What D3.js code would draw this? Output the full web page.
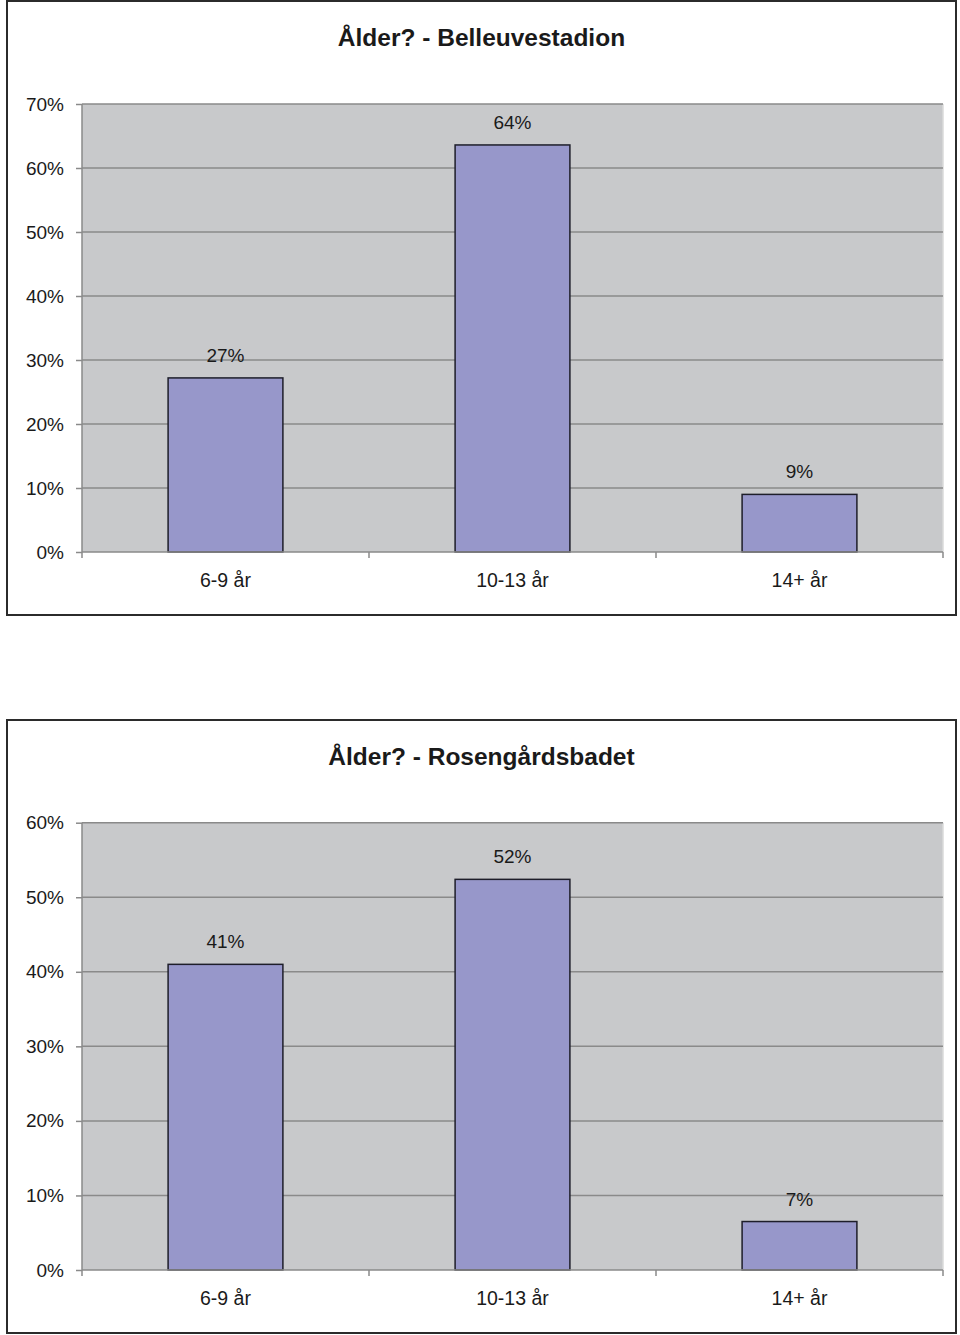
<!DOCTYPE html>
<html>
<head>
<meta charset="utf-8">
<script src="https://cdn.jsdelivr.net/npm/d3@7"></script>
<style>
  body { margin: 0; background: #fff; }
  svg { display: block; }
  text { font-family: "Liberation Sans", Arial, sans-serif; fill: #1a1a1a; }
</style>
</head>
<body>
<svg id="chart" width="960" height="1335"></svg>
<script>
// ---- data ----
const categories = ["6-9 år", "10-13 år", "14+ år"];

const title1 = "Ålder? - Belleuvestadion";
const values1 = [27.2, 63.6, 9.0];
const labels1 = ["27%", "64%", "9%"];
const ticks1 = [0, 10, 20, 30, 40, 50, 60, 70];

const title2 = "Ålder? - Rosengårdsbadet";
const values2 = [41.0, 52.4, 6.5];
const labels2 = ["41%", "52%", "7%"];
const ticks2 = [0, 10, 20, 30, 40, 50, 60];

// ---- drawing ----
const svg = d3.select("#chart");

function drawChart(cfg) {
  const g = svg.append("g");
  const { box, plot } = cfg;

  // outer frame
  g.append("rect")
    .attr("x", box.x).attr("y", box.y)
    .attr("width", box.w).attr("height", box.h)
    .attr("fill", "#fff")
    .attr("stroke", "#2b2b2b")
    .attr("stroke-width", 2);

  // title
  g.append("text")
    .attr("x", (box.x + box.x + box.w) / 2)
    .attr("y", box.y + 45)
    .attr("text-anchor", "middle")
    .attr("font-size", 24.5)
    .attr("font-weight", "bold")
    .text(cfg.title);

  const x = d3.scaleBand()
    .domain(categories)
    .range([plot.left, plot.right])
    .paddingInner(0.6)
    .paddingOuter(0.3);

  const y = d3.scaleLinear()
    .domain([0, d3.max(cfg.ticks)])
    .range([plot.bottom, plot.top]);

  // plot background
  g.append("rect")
    .attr("x", plot.left).attr("y", plot.top)
    .attr("width", plot.right - plot.left)
    .attr("height", plot.bottom - plot.top)
    .attr("fill", "#c8c9cb")
    .attr("stroke", "none");

  // right edge of plot area (light)
  g.append("line")
    .attr("x1", plot.right).attr("x2", plot.right)
    .attr("y1", plot.top).attr("y2", plot.bottom)
    .attr("stroke", "#dadada").attr("stroke-width", 1.5);

  // gridlines
  g.selectAll(".grid")
    .data(cfg.ticks.filter(t => t > 0))
    .enter().append("line")
    .attr("x1", plot.left).attr("x2", plot.right)
    .attr("y1", d => y(d)).attr("y2", d => y(d))
    .attr("stroke", "#8a8a8a").attr("stroke-width", 1.5);

  // bars
  g.selectAll(".bar")
    .data(cfg.values)
    .enter().append("rect")
    .attr("x", (d, i) => x(categories[i]))
    .attr("y", d => y(d))
    .attr("width", x.bandwidth())
    .attr("height", d => plot.bottom - y(d))
    .attr("fill", "#9797ca")
    .attr("stroke", "#1e1e2a")
    .attr("stroke-width", 1.5);

  // value labels
  g.selectAll(".vlabel")
    .data(cfg.values)
    .enter().append("text")
    .attr("x", (d, i) => x(categories[i]) + x.bandwidth() / 2)
    .attr("y", d => y(d) - 16)
    .attr("text-anchor", "middle")
    .attr("font-size", 19)
    .text((d, i) => cfg.labels[i]);

  // y axis
  const yAxis = d3.axisLeft(y)
    .tickValues(cfg.ticks)
    .tickFormat(d => d + "%")
    .tickSize(6)
    .tickPadding(12);
  const ya = g.append("g")
    .attr("transform", `translate(${plot.left},0)`)
    .call(yAxis);
  ya.select(".domain").remove();
  ya.selectAll(".tick line").attr("stroke", "#8a8a8a").attr("stroke-width", 1.5);
  ya.selectAll(".tick text")
    .attr("font-size", 19)
    .attr("font-family", "Liberation Sans, Arial, sans-serif")
    .attr("fill", "#1a1a1a");

  // axis lines
  g.append("line")
    .attr("x1", plot.left).attr("x2", plot.left)
    .attr("y1", plot.top).attr("y2", plot.bottom + 6)
    .attr("stroke", "#8a8a8a").attr("stroke-width", 1.5);
  g.append("line")
    .attr("x1", plot.left).attr("x2", plot.right)
    .attr("y1", plot.bottom).attr("y2", plot.bottom)
    .attr("stroke", "#8a8a8a").attr("stroke-width", 1.5);

  // x category boundary ticks
  const bounds = categories.map((c, i) => plot.left + x.step() * (i + 1));
  g.selectAll(".xtick")
    .data(bounds)
    .enter().append("line")
    .attr("x1", d => d).attr("x2", d => d)
    .attr("y1", plot.bottom).attr("y2", plot.bottom + 6)
    .attr("stroke", "#8a8a8a").attr("stroke-width", 1.5);

  // x labels
  g.selectAll(".xlabel")
    .data(categories)
    .enter().append("text")
    .attr("x", d => x(d) + x.bandwidth() / 2)
    .attr("y", plot.bottom + 35)
    .attr("text-anchor", "middle")
    .attr("font-size", 19.5)
    .text(d => d);
}

drawChart({
  title: title1, values: values1, labels: labels1, ticks: ticks1,
  box: { x: 7, y: 1, w: 949, h: 614 },
  plot: { left: 82, right: 943, top: 104, bottom: 552 }
});

drawChart({
  title: title2, values: values2, labels: labels2, ticks: ticks2,
  box: { x: 7, y: 720, w: 949, h: 613 },
  plot: { left: 82, right: 943, top: 822.7, bottom: 1270 }
});
</script>
</body>
</html>
